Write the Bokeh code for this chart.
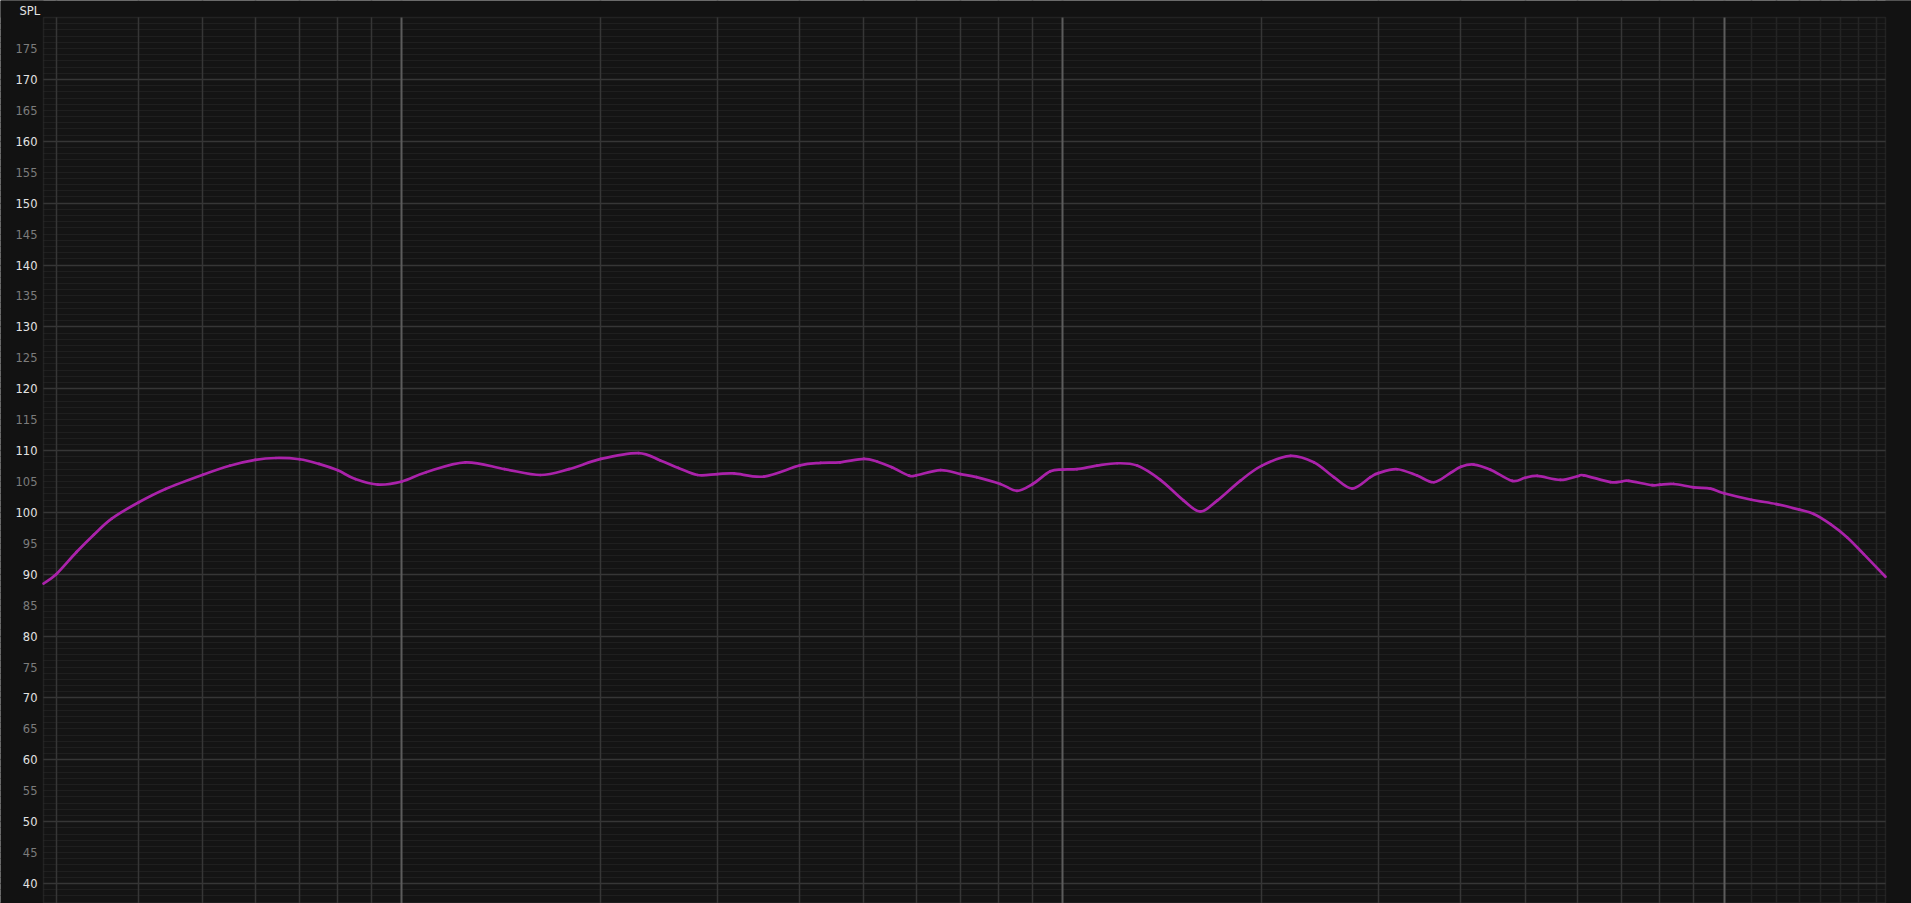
import math
from bokeh.plotting import figure
from bokeh.models import Grid, FixedTicker, Range1d, BoxAnnotation
from bokeh.core.properties import value
from bokeh.embed import file_html
from bokeh.resources import INLINE

# ---- data (frequency in Hz, SPL in dB) ----
freqs = [28.7, 30, 32.2, 34.2, 36.4, 40, 43.9, 50, 54.9, 60, 64.5, 70, 74.9, 80, 85,
         92, 100, 108.8, 124.8, 143, 162, 179, 200, 228, 246, 262, 280, 300, 318, 353,
         400, 430, 460, 500, 524, 551, 585, 600, 653, 700, 740, 804, 852, 900, 957,
         1000, 1050, 1126, 1208, 1295, 1404, 1523, 1614, 1711, 1856, 2000, 2209, 2396,
         2569, 2738, 2918, 3000, 3203, 3434, 3639, 3857, 4000, 4183, 4434, 4782, 5000,
         5217, 5656, 6000, 6137, 6734, 7000, 7178, 7786, 8000, 8400, 9000, 9541, 10000,
         11000, 12000, 13000, 13670, 14490, 15360, 16270, 17550]
spl = [88.5, 90.0, 93.6, 96.4, 99.0, 101.65, 103.8, 106.1, 107.55, 108.5, 108.8, 108.6, 107.85, 106.8, 105.4,
       104.5, 105.0, 106.5, 108.1, 107.0, 106.05, 107.0, 108.65, 109.6, 108.4, 107.2, 106.05, 106.2, 106.3, 105.8,
       107.6, 108.0, 108.1, 108.65, 108.2, 107.3, 105.95, 106.0, 106.85, 106.2, 105.7, 104.6, 103.5, 104.6, 106.65,
       106.93, 107.0, 107.57, 107.95, 107.57, 105.26, 101.9, 100.14, 101.9, 105.15, 107.57, 109.14, 108.1,
       105.7, 103.86, 105.7, 106.35, 106.98, 105.96, 104.88, 106.4, 107.4, 107.74, 106.9, 105.1, 105.6,
       105.9, 105.25, 105.85, 106.0, 104.9, 105.0, 105.1, 104.4, 104.5, 104.6, 104.05, 103.85, 103.1,
       102.05, 101.35, 100.45, 99.75, 98.1, 95.95, 93.25, 89.6]

x_start, x_end = 28.7, 17550
y_start, y_end = 36.77, 180.02
PX_PER_DECADE = 661.0
PX_PER_DB = 6.1846

decade_lines = [100, 1000, 10000]
freq_lines = [30, 40, 50, 60, 70, 80, 90, 200, 300, 400, 500, 600, 700, 800, 900,
              2000, 3000, 4000, 5000, 6000, 7000, 8000, 9000]
fine_freq_lines = [11000, 12000, 13000, 14000, 15000, 16000, 17000]
spl_major = list(range(40, 180, 10))
spl_minor = list(range(37, 180, 1))
spl_labels = list(range(40, 180, 5))
label_texts = [str(v) for v in spl_labels]
label_colors = ["#e2e2e2" if v % 10 == 0 else "#7c7c7c" for v in spl_labels]
axis_title = "SPL"

FONT = "DejaVu Sans"
BG = "#121212"
LEFT, RIGHT, TOP = 43, 26, 17   # px margins around the plotting area


def fx(px):
    """frequency lying px pixels to the right of x_start on the log scale"""
    return x_start * 10 ** (px / PX_PER_DECADE)


x_lo = fx(-LEFT)
x_hi = x_end * 10 ** (RIGHT / PX_PER_DECADE)
y_hi = y_end + TOP / PX_PER_DB

p = figure(width=1911, height=903, x_axis_type="log",
           x_range=Range1d(x_lo, x_hi), y_range=Range1d(y_start, y_hi),
           x_axis_location=None, y_axis_location=None,
           toolbar_location=None, output_backend="svg",
           min_border_left=0, min_border_right=0, min_border_top=0, min_border_bottom=0,
           background_fill_color=BG, border_fill_color=BG, outline_line_color=None)
p.center = [r for r in p.center if not isinstance(r, Grid)]

# plotting-area background
p.add_layout(BoxAnnotation(left=x_start, right=x_end, top=y_end, fill_color="#141414",
                           fill_alpha=1, line_color=None, level="underlay"))

p.add_layout(Grid(dimension=1, ticker=FixedTicker(ticks=spl_minor),
                  grid_line_color="#1f1f1f", grid_line_width=1))
p.add_layout(Grid(dimension=0, ticker=FixedTicker(ticks=fine_freq_lines),
                  grid_line_color="#242424", grid_line_width=1.5))
p.add_layout(Grid(dimension=0, ticker=FixedTicker(ticks=freq_lines),
                  grid_line_color="#363636", grid_line_width=1.5))
p.add_layout(Grid(dimension=1, ticker=FixedTicker(ticks=spl_major),
                  grid_line_color="#363636", grid_line_width=1.5))
p.add_layout(Grid(dimension=0, ticker=FixedTicker(ticks=decade_lines),
                  grid_line_color="#5c5c5c", grid_line_width=2))

# mask grid lines outside the plotting area
for kw in (dict(right=x_start), dict(left=x_end), dict(bottom=y_end)):
    p.add_layout(BoxAnnotation(fill_color=BG, fill_alpha=1, line_color=None,
                               level="underlay", **kw))

# frame border
p.add_layout(BoxAnnotation(left=x_start, right=x_end, top=y_end, bottom=y_start - 10,
                           fill_alpha=0, line_color="#4a4a4a", line_width=1.5,
                           level="underlay"))

# ---- response curve: smooth Bezier segments through the read points ----
# (control points from the neighbouring points, in the plot's log-x / linear-y geometry)
lx = [math.log10(f) * PX_PER_DECADE for f in freqs]
ly = [v * PX_PER_DB for v in spl]
n = len(freqs)
x0, y0, x1, y1, cx0, cy0, cx1, cy1 = ([] for _ in range(8))
for i in range(n - 1):
    a = max(i - 1, 0)
    d = min(i + 2, n - 1)
    c0x = lx[i] + (lx[i + 1] - lx[a]) / 6
    c0y = ly[i] + (ly[i + 1] - ly[a]) / 6
    c1x = lx[i + 1] - (lx[d] - lx[i]) / 6
    c1y = ly[i + 1] - (ly[d] - ly[i]) / 6
    x0.append(freqs[i]); y0.append(spl[i])
    x1.append(freqs[i + 1]); y1.append(spl[i + 1])
    cx0.append(10 ** (c0x / PX_PER_DECADE)); cy0.append(c0y / PX_PER_DB)
    cx1.append(10 ** (c1x / PX_PER_DECADE)); cy1.append(c1y / PX_PER_DB)

p.bezier(x0=x0, y0=y0, x1=x1, y1=y1, cx0=cx0, cy0=cy0, cx1=cx1, cy1=cy1,
         line_color="#aa22aa", line_width=2.7, line_cap="round")

# SPL tick labels and title
p.text(x=[fx(-6)] * len(spl_labels), y=spl_labels, text=label_texts,
       text_color=label_colors, text_font=value(FONT), text_font_size="11.5px",
       text_align="right", text_baseline="middle")
p.text(x=[fx(-24)], y=[y_end + 6.3 / PX_PER_DB], text=[axis_title], text_color="#e2e2e2",
       text_font=value(FONT), text_font_size="11.5px",
       text_align="left", text_baseline="alphabetic")

open("out.html", "w").write(file_html(p, INLINE))
